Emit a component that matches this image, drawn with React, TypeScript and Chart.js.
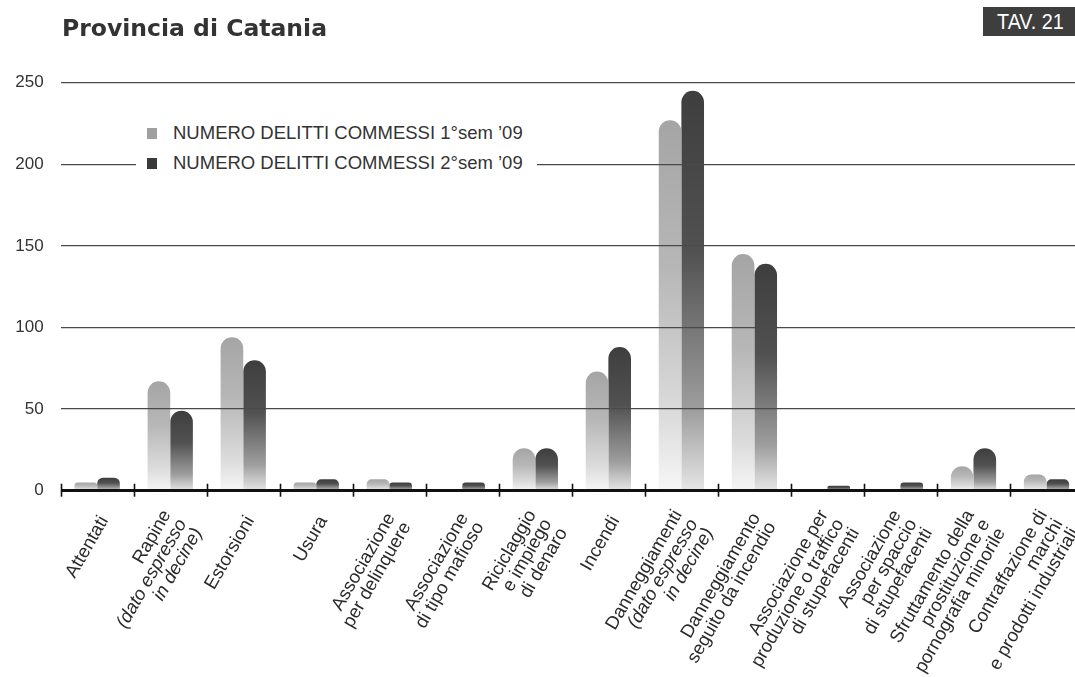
import React, { useEffect, useRef } from 'react';
import { Chart, registerables } from 'chart.js';

Chart.register(...registerables);

// ---- DATA ----
const categories: string[][] = [
  ['Attentati'],
  ['Rapine', '(dato espresso', 'in decine)'],
  ['Estorsioni'],
  ['Usura'],
  ['Associazione', 'per delinquere'],
  ['Associazione', 'di tipo mafioso'],
  ['Riciclaggio', 'e impiego', 'di denaro'],
  ['Incendi'],
  ['Danneggiamenti', '(dato espresso', 'in decine)'],
  ['Danneggiamento', 'seguito da incendio'],
  ['Associazione per', 'produzione o traffico', 'di stupefacenti'],
  ['Associazione', 'per spaccio', 'di stupefacenti'],
  ['Sfruttamento della', 'prostituzione e', 'pornografia minorile'],
  ['Contraffazione di', 'marchi', 'e prodotti industriali'],
];
const sem1: number[] = [5, 67, 94, 5, 7, 0, 26, 73, 227, 145, 0, 0, 15, 10];
const sem2: number[] = [8, 49, 80, 7, 5, 5, 26, 88, 245, 139, 3, 5, 26, 7];
const yTicks: number[] = [0, 50, 100, 150, 200, 250];
const seriesNames: string[] = [
  'NUMERO DELITTI COMMESSI 1°sem ’09',
  'NUMERO DELITTI COMMESSI 2°sem ’09',
];
const title = 'Provincia di Catania';
const badge = 'TAV. 21';

// ---- STYLE ----
const CANVAS_W = 1100;
const CANVAS_H = 677;
const AREA_LEFT = 60.7;
const AREA_RIGHT = 1083;
const AREA_TOP = 82.7;
const AREA_BOTTOM = 490.7;
const FONT = '"Liberation Sans", Arial, Helvetica, sans-serif';

const lightStops: [number, string][] = [
  [0, '#a5a5a5'],
  [0.4, '#b7b7b7'],
  [0.8, '#dcdcdc'],
  [1, '#f6f6f6'],
];
const darkStops: [number, string][] = [
  [0, '#3e3e3e'],
  [0.4, '#515151'],
  [0.8, '#9e9e9e'],
  [1, '#e6e6e6'],
];

function gradientFill(stops: [number, string][], fallback: string) {
  return (ctx: any) => {
    const chart = ctx.chart;
    const y = chart.scales && chart.scales.y;
    if (!chart.chartArea || !y || ctx.type !== 'data') return fallback;
    const v = ctx.raw as number;
    const top = y.getPixelForValue(v);
    const bot = y.getPixelForValue(0);
    if (!(bot - top > 0.5)) return fallback;
    const g = chart.ctx.createLinearGradient(0, top, 0, bot);
    stops.forEach(([o, c]) => g.addColorStop(o, c));
    return g;
  };
}

const xLabelsPlugin = {
  id: 'xLabelsAndTicks',
  afterDraw(chart: any) {
    const { ctx, chartArea } = chart;
    const x = chart.scales.x;
    const y0 = chartArea.bottom;
    const half = (x.getPixelForValue(1) - x.getPixelForValue(0)) / 2;
    ctx.save();
    ctx.strokeStyle = '#111';
    ctx.lineWidth = 1.6;
    for (let i = 0; i < categories.length; i++) {
      const bx = Math.round(x.getPixelForValue(i) - half) + 0.5;
      ctx.beginPath();
      ctx.moveTo(bx, y0 - 7);
      ctx.lineTo(bx, y0 + 6);
      ctx.stroke();
    }
    ctx.fillStyle = '#2a2a2a';
    const LH = 18;
    const ang = (-60 * Math.PI) / 180;
    categories.forEach((lines, i) => {
      const cx = x.getPixelForValue(i) + 7;
      const cy = y0 + 27;
      ctx.save();
      ctx.translate(cx, cy);
      ctx.rotate(ang);
      ctx.textAlign = 'right';
      ctx.textBaseline = 'middle';
      const n = lines.length;
      lines.forEach((line, j) => {
        const italic = /dato espresso|in decine/.test(line);
        ctx.font = `${italic ? 'italic ' : ''}18.5px ${FONT}`;
        ctx.fillText(line, 0, (j - (n - 1) / 2) * LH + 3 * (n - 1));
      });
      ctx.restore();
    });
    ctx.restore();
  },
};

export default function App() {
  const canvasRef = useRef<HTMLCanvasElement | null>(null);

  useEffect(() => {
    const canvas = canvasRef.current;
    if (!canvas) return;
    const chart = new Chart(canvas, {
      type: 'bar',
      data: {
        labels: categories.map((c) => c.join(' ')),
        datasets: [
          {
            label: seriesNames[0],
            data: sem1,
            backgroundColor: gradientFill(lightStops, '#a5a5a5') as any,
            borderRadius: 12,
            borderSkipped: 'start',
            categoryPercentage: 0.62,
            barPercentage: 1,
          },
          {
            label: seriesNames[1],
            data: sem2,
            backgroundColor: gradientFill(darkStops, '#3e3e3e') as any,
            borderRadius: 12,
            borderSkipped: 'start',
            categoryPercentage: 0.62,
            barPercentage: 1,
          },
        ],
      },
      options: {
        responsive: false,
        animation: false,
        layout: {
          padding: {
            top: AREA_TOP,
            right: CANVAS_W - AREA_RIGHT,
            bottom: CANVAS_H - AREA_BOTTOM,
            left: 0,
          },
        },
        plugins: {
          legend: { display: false },
          tooltip: { enabled: false },
        },
        scales: {
          x: {
            type: 'category',
            offset: true,
            ticks: { display: false },
            grid: { display: false },
            border: { display: false },
            afterFit: (s: any) => {
              s.height = 0;
            },
          },
          y: {
            min: 0,
            max: 250,
            afterBuildTicks: (s: any) => {
              s.ticks = yTicks.map((v) => ({ value: v }));
            },
            afterFit: (s: any) => {
              s.width = AREA_LEFT;
            },
            ticks: {
              font: { family: FONT, size: 17 },
              color: '#333',
              padding: 17,
            },
            grid: {
              z: 1,
              drawTicks: false,
              color: (c: any) => (c.tick && c.tick.value === 0 ? '#111' : '#4a4a4a'),
              lineWidth: (c: any) => (c.tick && c.tick.value === 0 ? 3 : 1.3),
            },
            border: { display: false },
          },
        },
      },
      plugins: [xLabelsPlugin],
    });
    return () => chart.destroy();
  }, []);

  return (
    <div
      style={{
        position: 'fixed',
        left: 0,
        top: 0,
        width: 1075,
        height: 677,
        overflow: 'hidden',
        background: '#fff',
      }}
    >
      <canvas
        ref={canvasRef}
        width={CANVAS_W}
        height={CANVAS_H}
        style={{ display: 'block', position: 'absolute', left: 0, top: 0 }}
      />
      <div
        style={{
          position: 'absolute',
          left: 62,
          top: 17,
          fontFamily: '"DejaVu Sans", sans-serif',
          fontWeight: 700,
          fontSize: 23.5,
          lineHeight: '23px',
          color: '#333',
          whiteSpace: 'nowrap',
        }}
      >
        {title}
      </div>
      <div
        style={{
          position: 'absolute',
          left: 983,
          top: 7,
          width: 110,
          height: 29,
          background: '#3e3e3e',
        }}
      >
        <div
          style={{
            position: 'absolute',
            left: 14,
            top: 0,
            height: 29,
            lineHeight: '29px',
            fontFamily: FONT,
            fontSize: 22,
            color: '#fff',
            whiteSpace: 'nowrap',
            transform: 'scaleX(0.9)',
            transformOrigin: 'left center',
          }}
        >
          {badge}
        </div>
      </div>
      <div
        style={{
          position: 'absolute',
          left: 136,
          top: 119,
          width: 401,
          height: 58,
          background: '#fff',
        }}
      >
        {seriesNames.map((name, i) => (
          <div
            key={name}
            style={{
              position: 'absolute',
              left: 0,
              top: 4 + i * 30,
              height: 20,
              width: 401,
            }}
          >
            <div
              style={{
                position: 'absolute',
                left: 11,
                top: 5,
                width: 10,
                height: 11,
                background: i === 0 ? '#a0a0a0' : '#3a3a3a',
              }}
            />
            <div
              style={{
                position: 'absolute',
                left: 37,
                top: 0,
                lineHeight: '20px',
                fontFamily: FONT,
                fontSize: 18.5,
                color: '#333',
                whiteSpace: 'nowrap',
              }}
            >
              {name}
            </div>
          </div>
        ))}
      </div>
    </div>
  );
}
